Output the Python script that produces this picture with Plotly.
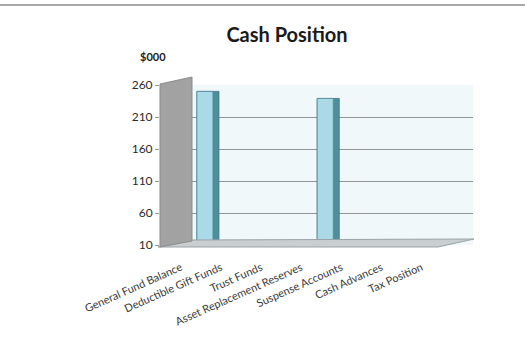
import plotly.graph_objects as go

# ---------------- data ----------------
categories = ["General Fund Balance", "Deductible Gift Funds", "Trust Funds",
              "Asset Replacement Reserves", "Suspense Accounts", "Cash Advances",
              "Tax Position"]
values = [250, 0, 0, 239, 0, 0, 0]
y_ticks = [10, 60, 110, 160, 210, 260]
title_text = "Cash Position"
unit_text = "$000"

# ---------------- layout geometry ----------------
W, H = 525, 348
L, R, T, B = 160, 52, 85, 103
pw, ph = W - L - R, H - T - B

def px2x(px):
    return (px - L) / pw

def py2y(py):
    return (H - B - py) / ph

xpos = list(range(len(categories)))
tickpos = [i - 0.78 for i in xpos]

fig = go.Figure()
# side (darker) face of the pseudo-3D columns
fig.add_trace(go.Bar(
    x=xpos, y=values, width=0.55, offset=-0.38,
    marker=dict(color="#4f8e9b", line=dict(color="#3d7480", width=0.8)),
    hoverinfo="skip", showlegend=False))
# front face
fig.add_trace(go.Bar(
    x=xpos, y=values, width=0.4, offset=-0.38,
    marker=dict(color="#aad9e8", line=dict(color="#4f8e9b", width=0.8)),
    showlegend=False))

shapes = []
# floor
shapes.append(dict(type="path", xref="paper", yref="paper", layer="above",
                   path=f"M {px2x(158)},{py2y(247)} L {px2x(192)},{py2y(240)} L {px2x(474)},{py2y(239)} L {px2x(438)},{py2y(247)} Z",
                   fillcolor="#c9cfd1", line=dict(color="#9aa3a6", width=1)))
# left side wall
shapes.append(dict(type="path", xref="paper", yref="paper", layer="above",
                   path=f"M {px2x(160)},{py2y(84)} L {px2x(192)},{py2y(77)} L {px2x(192)},{py2y(241)} L {px2x(160)},{py2y(247)} Z",
                   fillcolor="#a2a2a2", line=dict(color="#8c8c8c", width=1)))
# page border line at top
shapes.append(dict(type="line", xref="paper", yref="paper", layer="above",
                   x0=px2x(0), x1=px2x(W), y0=py2y(5), y1=py2y(5),
                   line=dict(color="#a9a9a9", width=2)))

fig.update_layout(
    width=W, height=H, autosize=False,
    margin=dict(l=L, r=R, t=T, b=B),
    paper_bgcolor="white", plot_bgcolor="#f1f8fa",
    barmode="overlay",
    font=dict(family="Lato, Open Sans, sans-serif", color="#333333"),
    title=dict(text=f"<b>{title_text}</b>", x=287 / W, xanchor="center",
               xref="container", y=1 - 35 / H, yref="container", yanchor="middle",
               font=dict(size=20, color="#1a1a1a")),
    shapes=shapes,
    annotations=[dict(text=f"<b>{unit_text}</b>", xref="paper", yref="paper",
                      x=px2x(153), y=py2y(57), xanchor="center", yanchor="middle",
                      showarrow=False, font=dict(size=11, color="#222222"))],
)
fig.update_xaxes(range=[-1.3, 6.505], tickmode="array", tickvals=tickpos,
                 ticktext=categories, tickangle=-24, showgrid=False,
                 zeroline=False, showline=False, ticks="outside", ticklen=11,
                 tickcolor="rgba(0,0,0,0)",
                 tickfont=dict(size=11, color="#3a3a3a"))
fig.update_yaxes(range=[10, 260], tickmode="array", tickvals=y_ticks,
                 showgrid=True, gridcolor="#949494", gridwidth=1.2,
                 zeroline=False, showline=False, ticks="outside", ticklen=4,
                 tickcolor="#999999", tickfont=dict(size=12, color="#2a2a2a"))

fig.write_html("out.html")
